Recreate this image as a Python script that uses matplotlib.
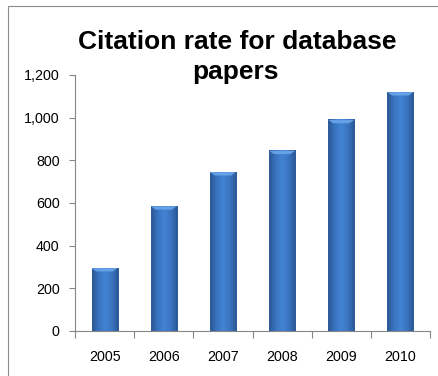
import matplotlib.pyplot as plt
import numpy as np
from matplotlib.colors import LinearSegmentedColormap
from matplotlib.patches import Rectangle, Polygon

years = ['2005', '2006', '2007', '2008', '2009', '2010']
citations = [295, 585, 745, 845, 990, 1120]
y_ticks = [0, 200, 400, 600, 800, 1000, 1200]

plt.rcParams['font.family'] = ['Liberation Sans', 'DejaVu Sans']

fig = plt.figure(figsize=(4.38, 3.76), dpi=100)
ax = fig.add_axes([75 / 438, 1 - 331 / 376, 355 / 438, 256 / 376])

# outer chart frame (runs off the right and bottom edges)
fig.patches.append(Rectangle((8 / 438, -0.1), 1.2, 1 - 6 / 376 + 0.1,
                             transform=fig.transFigure, fill=False,
                             ec='#8c8c8c', lw=0.8))

# bar shading: dark edges, lighter middle
shade = LinearSegmentedColormap.from_list(
    'bar', ['#2a5692', '#3a74c0', '#4283d3', '#3a74c0', '#2a5692'])
grad = np.linspace(0, 1, 64).reshape(1, -1)

width = 0.44
x = np.arange(len(years))
for xi, val in zip(x, citations):
    x0, x1 = xi - width / 2, xi + width / 2
    ax.imshow(grad, cmap=shade, aspect='auto', extent=(x0, x1, 0, val),
              zorder=2, interpolation='bilinear')
    ax.add_patch(Rectangle((x0, 0), width, val, fill=False,
                           ec='#2f5f9e', lw=0.6, zorder=3))
    # bevelled top
    bev = 16
    ax.add_patch(Polygon([(x0, val), (x1, val), (x1 - 0.08, val - bev),
                          (x0 + 0.08, val - bev)], closed=True,
                         fc='#6aa6ea', ec='none', alpha=0.9, zorder=3))

ax.set_xlim(-0.5, len(years) - 0.5)
ax.set_ylim(0, 1200)

ax.set_yticks(y_ticks)
ax.set_yticklabels([f'{v:,}' for v in y_ticks], fontsize=10.3)
ax.set_xticks(x)
ax.set_xticklabels(years, fontsize=10.3)
ax.set_xticks(np.arange(len(years) + 1) - 0.5, minor=True)
ax.tick_params(axis='x', which='major', length=0, pad=14)
ax.tick_params(axis='x', which='minor', length=5, color='#868686', width=0.8)
ax.tick_params(axis='y', length=4, color='#868686', width=0.8, pad=7)

for side in ['top', 'right']:
    ax.spines[side].set_visible(False)
for side in ['left', 'bottom']:
    ax.spines[side].set_color('#868686')
    ax.spines[side].set_linewidth(0.8)

fig.text(237 / 438, 1 - 49 / 376, 'Citation rate for database',
         ha='center', va='baseline', fontsize=19, fontweight='bold')
fig.text(235 / 438, 1 - 79 / 376, 'papers',
         ha='center', va='baseline', fontsize=19, fontweight='bold')

fig.savefig('out.png', dpi=100)
